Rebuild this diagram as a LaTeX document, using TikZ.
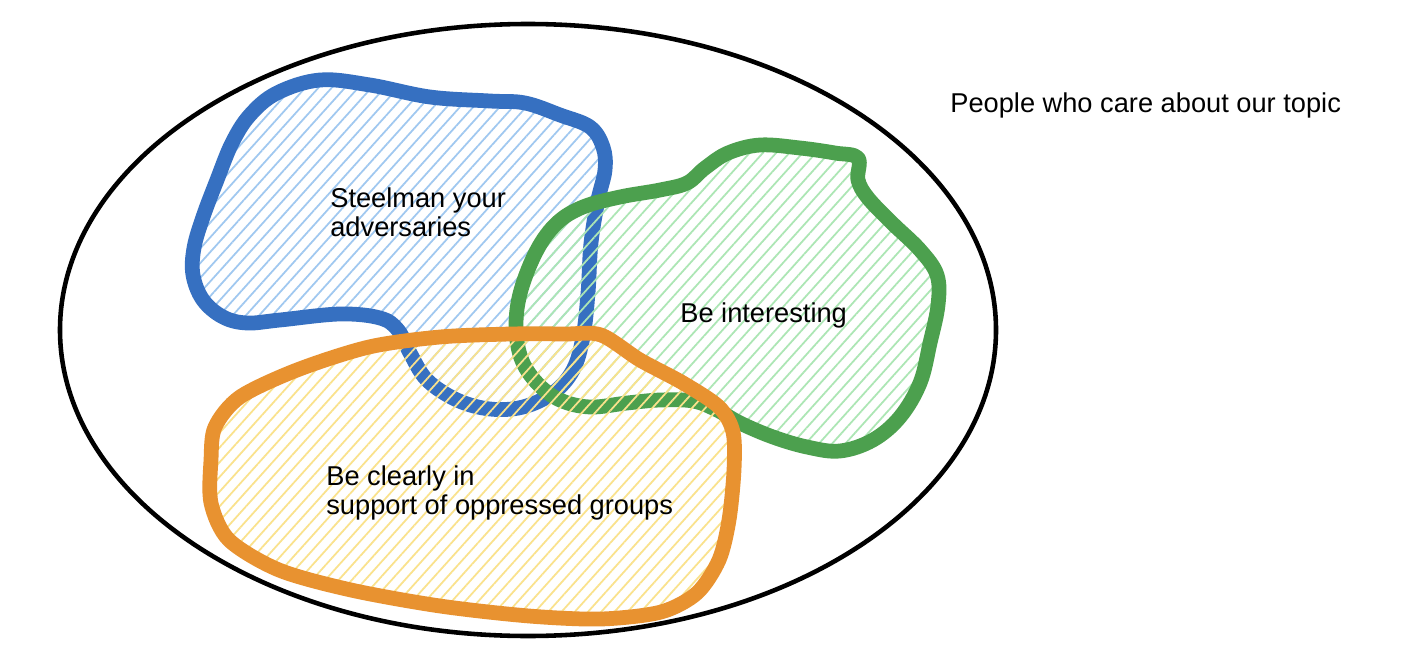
\documentclass[tikz,border=0pt]{standalone}
\usepackage{fontspec}
\setmainfont{Liberation Sans}
\usepackage{xcolor}
\usetikzlibrary{patterns.meta, positioning}

\definecolor{steelblue}{RGB}{54,112,193}
\definecolor{interestgreen}{RGB}{76,160,78}
\definecolor{supportorange}{RGB}{232,146,48}
\definecolor{steelhatch}{RGB}{160,200,240}
\definecolor{interesthatch}{RGB}{172,230,180}
\definecolor{supporthatch}{RGB}{250,226,140}

\tikzset{
  blob/.style={line width=8.4pt, line join=round, line cap=round},
  hatched/.style={pattern={Lines[angle=48, distance=5.6pt, line width=1pt]}, pattern color=#1},
  labeltext/.style={font=\fontsize{15.5}{16.5}\selectfont, align=left, inner sep=0pt}
}

\begin{document}
\begin{tikzpicture}[x=0.02cm, y=-0.02cm]
            \fill[white] (0,0) rectangle (1422,662);
            \useasboundingbox (0,0) rectangle (1422,662);
            % Outer set
            \draw[line width=2.6pt] (528,330) ellipse [x radius=468, y radius=306];
            % Steelman
            \draw[blob, steelblue, hatched=steelhatch] plot[smooth cycle, tension=0.6] coordinates {
              (320,80) (370,85) (430,97) (490,101) (525,103) (560,115) (590,127) (603,147)
              (605,170) (598,200) (591,243) (588,293) (583,337) (573,370) (553,393) (523,407)
              (490,409) (457,400) (427,380) (410,353) (398,330) (380,318) (340,314) (280,320)
              (247,323) (223,317) (203,300) (193,275) (194,248) (203,217) (217,180) (232,143)
              (250,115) (277,93)};
            % Interesting
            \draw[blob, interestgreen, hatched=interesthatch] plot[smooth cycle, tension=0.6] coordinates {
              (858,158) (858,180) (868,198) (892,223) (920,250) (937,275) (938,305) (930,343)
              (920,383) (900,417) (873,440) (840,451) (807,447) (773,437) (740,423) (717,410)
              (693,401) (660,400) (627,403) (590,407) (560,400) (537,383) (521,358) (516,325)
              (521,290) (537,250) (557,223) (583,207) (620,197) (660,190) (687,183) (705,168)
              (728,153) (760,145) (800,148) (835,153)};
            % Support
            \draw[blob, supportorange, hatched=supporthatch] plot[smooth cycle, tension=0.5] coordinates {
              (601,335) (640,360) (683,383) (719,407) (733,432) (734,470) (729,520) (719,560)
              (697,593) (661,612) (601,619) (529,616) (440,606) (351,590) (279,570) (229,540)
              (211,503) (211,460) (215,427) (240,397) (297,370) (369,347) (440,337) (511,334)
              (565,334)};
            % Labels
            \node[labeltext, anchor=west] (steelman) at (330,212) {Steelman your\\adversaries};
            \node[labeltext, anchor=west] (interesting) at (680,315) {Be interesting};
            \node[labeltext, anchor=west] (support) at (326,493) {Be clearly in\\support of oppressed groups};
            \node[labeltext, anchor=west] (topic) at (950,105) {People who care about our topic};
        \end{tikzpicture}
\end{document}
